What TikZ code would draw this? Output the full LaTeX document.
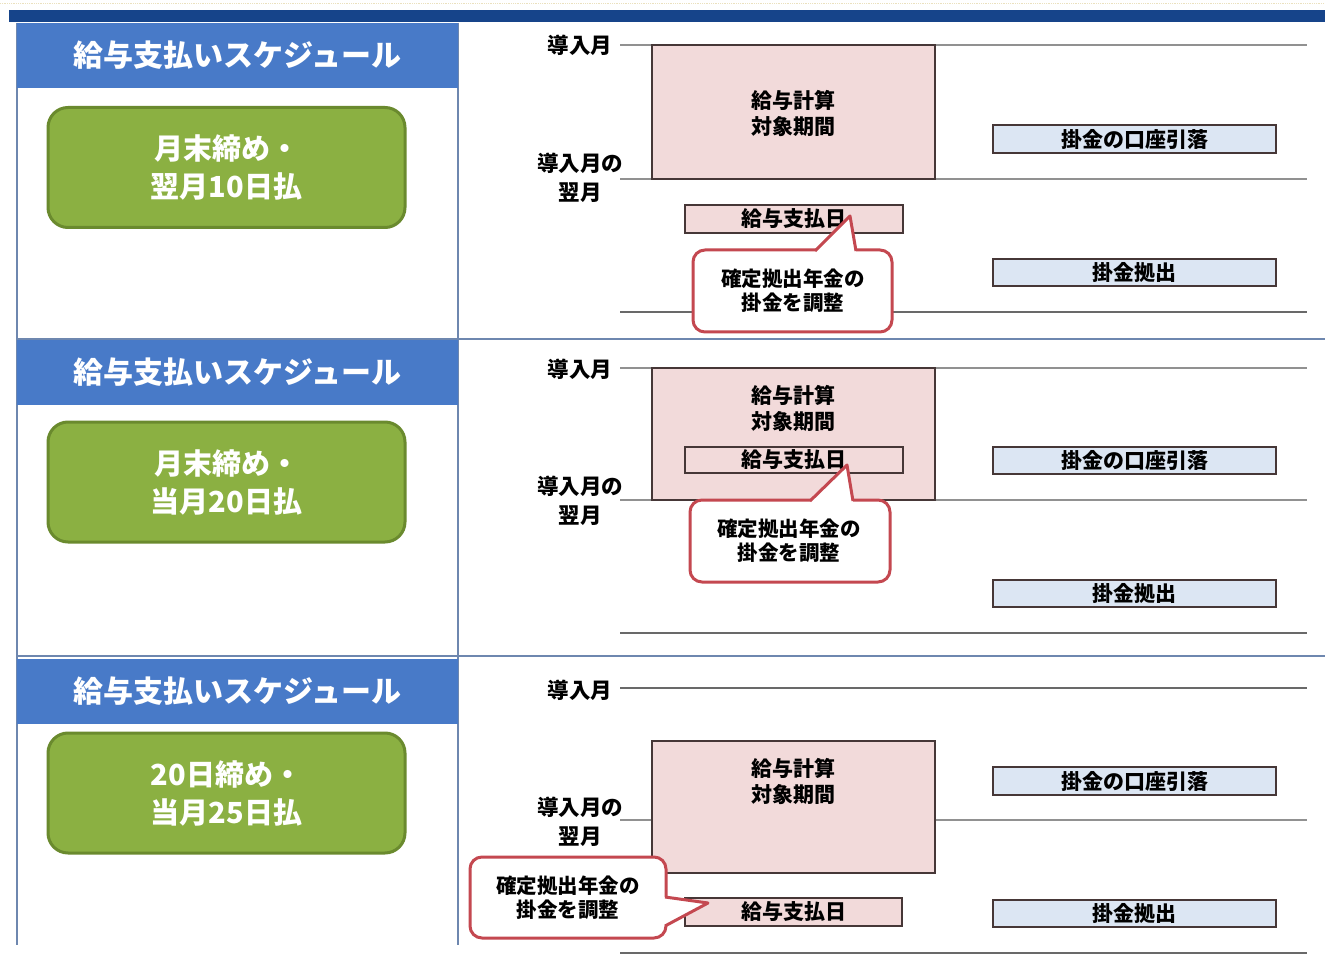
\documentclass[tikz,border=0pt]{standalone}
\usepackage{fontspec}
\setmainfont{Noto Sans CJK JP}
\definecolor{navy}{RGB}{22,68,138}
\definecolor{hdrblue}{RGB}{72,122,200}
\definecolor{grnfill}{RGB}{139,176,66}
\definecolor{grnedge}{RGB}{106,138,46}
\definecolor{pinkfill}{RGB}{242,218,218}
\definecolor{bluefill}{RGB}{220,230,243}
\definecolor{calloutred}{RGB}{196,72,80}
\definecolor{panelline}{RGB}{110,135,175}
\definecolor{tline}{RGB}{145,145,145}
\definecolor{tlinedark}{RGB}{105,105,105}
\definecolor{boxedge}{RGB}{70,55,55}
\tikzset{
  hdr/.style={fill=hdrblue, draw=none, inner sep=0pt, minimum width=441pt, minimum height=65pt,
    text=white, font=\bfseries\fontsize{30}{34}\selectfont},
  grn/.style={fill=grnfill, draw=grnedge, line width=3pt, rounded corners=20pt, inner sep=0pt,
    minimum width=357pt, minimum height=120pt, text=white, align=center,
    font=\bfseries\fontsize{29}{38}\selectfont},
  lbl/.style={align=center, inner sep=0pt, text=black, font=\bfseries\fontsize{21.5}{29}\selectfont},
  pinkbig/.style={fill=pinkfill, draw=boxedge, line width=1.8pt, inner sep=0pt, minimum width=283pt},
  boxtxt/.style={align=center, inner sep=0pt, font=\bfseries\fontsize{21}{26}\selectfont},
  paybox/.style={fill=pinkfill, draw=boxedge, line width=1.8pt, inner sep=0pt, minimum width=218pt,
    font=\bfseries\fontsize{21}{24}\selectfont},
  bluebox/.style={fill=bluefill, draw=boxedge, line width=1.8pt, inner sep=0pt, minimum width=283pt,
    font=\bfseries\fontsize{21}{24}\selectfont},
  calloutbox/.style={fill=white, draw=calloutred, line width=3pt, rounded corners=12pt},
  calloutptr/.style={draw=calloutred, line width=3pt, line join=round},
  callouttxt/.style={align=center, inner sep=0pt, font=\bfseries\fontsize{20.5}{24}\selectfont},
  tl/.style={draw=tline, line width=2.2pt},
  tld/.style={draw=tlinedark, line width=2.2pt},
  pline/.style={draw=panelline, line width=1.2pt}
}
\begin{document}
\begin{tikzpicture}[x=1pt,y=-1pt]
\useasboundingbox (0,0) rectangle (1325,957);
\fill[white] (0,0) rectangle (1325,957);
\draw[densely dotted, draw={rgb,255:red,235;green,225;blue,190}, line width=0.8pt] (0,3) -- (1325,3);

% top navy bar
\fill[navy] (9,10) rectangle (1325,22);

% panel lines
\draw[pline] (17,23) -- (17,945);
\draw[pline] (458,23) -- (458,945);
\draw[pline] (17,339) -- (1325,339);
\draw[pline] (17,656) -- (1325,656);

% ---------- left column ----------
\node[hdr] (h1) at (237.5,55.5) {給与支払いスケジュール};
\node[grn] (g1) at (226.5,167.5) {月末締め・\\翌月10日払};
\node[hdr] (h2) at (237.5,372.5) {給与支払いスケジュール};
\node[grn] (g2) at (226.5,482) {月末締め・\\当月20日払};
\node[hdr] (h3) at (237.5,691.5) {給与支払いスケジュール};
\node[grn] (g3) at (226.5,793) {20日締め・\\当月25日払};

% ---------- section 1 ----------
\draw[tl] (620,45) -- (1307,45);
\draw[tl] (620,179) -- (1307,179);
\draw[tld] (620,312) -- (1307,312);
\node[lbl] (a1) at (580,45) {導入月};
\node[lbl] (b1) at (580,178) {導入月の\\翌月};
\node[pinkbig, minimum height=134pt] (p1) at (793.5,112) {};
\node[boxtxt] (pt1) at (793.5,113) {給与計算\\対象期間};
\node[bluebox, minimum height=28pt] (k1) at (1134.5,139) {掛金の口座引落};
\node[paybox, minimum height=28pt] (s1) at (794,219) {給与支払日};
\node[bluebox, minimum height=27pt] (e1) at (1134.5,272.5) {掛金拠出};
\draw[calloutbox] (693,250) rectangle (892,332);
\fill[white] (815,252.5) -- (850,216) -- (856,252.5) -- cycle;
\draw[calloutptr] (815,251) -- (850,216) -- (856,251);
\node[callouttxt] (c1) at (793,291) {確定拠出年金の\\掛金を調整};

% ---------- section 2 ----------
\draw[tl] (620,368) -- (1307,368);
\draw[tl] (620,500) -- (1307,500);
\draw[tld] (620,633) -- (1307,633);
\node[lbl] (a2) at (580,369) {導入月};
\node[lbl] (b2) at (580,501) {導入月の\\翌月};
\node[pinkbig, minimum height=132pt] (p2) at (793.5,434) {};
\node[boxtxt] (pt2) at (793.5,408) {給与計算\\対象期間};
\node[paybox, minimum height=26pt] (s2) at (794,460) {給与支払日};
\node[bluebox, minimum height=27pt] (k2) at (1134.5,460.5) {掛金の口座引落};
\node[bluebox, minimum height=27pt] (e2) at (1134.5,593.5) {掛金拠出};
\draw[calloutbox] (690,500) rectangle (890,582);
\fill[white] (810,502.5) -- (847,465) -- (853,502.5) -- cycle;
\draw[calloutptr] (810,501) -- (847,465) -- (853,501);
\node[callouttxt] (c2) at (789,541) {確定拠出年金の\\掛金を調整};

% ---------- section 3 ----------
\draw[tld] (620,688) -- (1307,688);
\draw[tl] (620,820) -- (1307,820);
\draw[tld] (620,953) -- (1307,953);
\node[lbl] (a3) at (580,690) {導入月};
\node[lbl] (b3) at (580,822) {導入月の\\翌月};
\node[pinkbig, minimum height=132pt] (p3) at (793.5,807) {};
\node[boxtxt] (pt3) at (793.5,781) {給与計算\\対象期間};
\node[bluebox, minimum height=28pt] (k3) at (1134.5,781) {掛金の口座引落};
\node[paybox, minimum height=28pt, minimum width=217pt] (s3) at (793.5,912) {給与支払日};
\node[bluebox, minimum height=27pt] (e3) at (1134.5,913.5) {掛金拠出};
\draw[calloutbox] (470,857) rectangle (666,938);
\fill[white] (663.5,897) -- (708,903) -- (663.5,926) -- cycle;
\draw[calloutptr] (665,897) -- (708,903) -- (665,926);
\node[callouttxt] (c3) at (568,898) {確定拠出年金の\\掛金を調整};
\end{tikzpicture}
\end{document}
